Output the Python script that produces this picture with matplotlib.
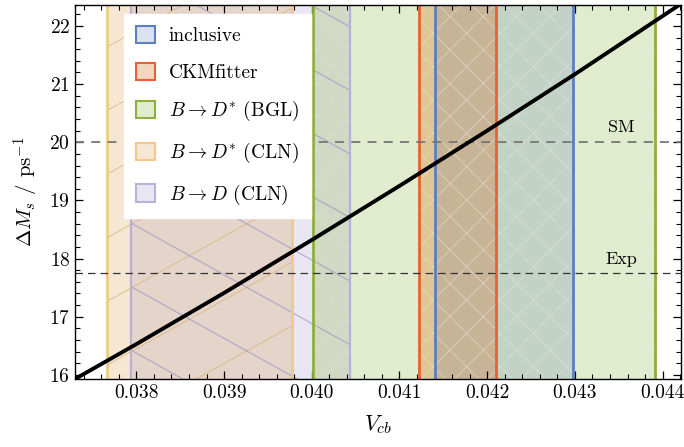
import numpy as np
import matplotlib
matplotlib.use("Agg")
import matplotlib.pyplot as plt
import matplotlib.patches as patches

plt.rcParams['font.family'] = 'serif'
plt.rcParams['font.serif'] = ['cmr10']
plt.rcParams['mathtext.fontset'] = 'cm'
plt.rcParams['axes.formatter.use_mathtext'] = True
plt.rcParams['hatch.linewidth'] = 0.8

# Delta M_s vs V_cb
vcb_points = [0.0373, 0.0380, 0.0390, 0.0400, 0.0410, 0.0420, 0.0430, 0.0440, 0.04421]
dms_points = [15.93, 16.53, 17.41, 18.32, 19.25, 20.20, 21.17, 22.17, 22.38]

# V_cb intervals
band_labels = ['inclusive', 'CKMfitter', r'$B\to D^{*}$ (BGL)', r'$B\to D^{*}$ (CLN)', r'$B\to D$ (CLN)']
band_lo = [0.04141, 0.04122, 0.04001, 0.03766, 0.03794]
band_hi = [0.04298, 0.04210, 0.04391, 0.03978, 0.04044]

dms_sm = 20.0
dms_exp = 17.757

edge_colors = ['#5b7fc0', '#ec5f33', '#8db03a', '#f2c78a', '#b8b0d6']
fill_colors = ['#4c72b0', '#d65a00', '#8ab03a', '#dca050', '#a89ed0']
fill_alpha = [0.2, 0.25, 0.25, 0.25, 0.25]
draw_order = [4, 3, 2, 0, 1]

fig = plt.figure(figsize=(6.84, 4.47), dpi=100)
ax = fig.add_axes([75 / 684, 1 - 379 / 447, 606 / 684, 374 / 447])

for i in draw_order:
    ax.axvspan(band_lo[i], band_hi[i], color=fill_colors[i], alpha=fill_alpha[i], lw=0, zorder=1)
    if i in (0, 1, 2):
        ax.axvspan(band_lo[i], band_hi[i], facecolor='none', edgecolor=(1, 1, 1, 0.13),
                   hatch='x', lw=0, zorder=1.1)

# sparse diagonal lines in the CLN bands
for i, sgn, col in [(3, 1, '#d9b77f'), (4, -1, '#9d95c4')]:
    span = ax.axvspan(band_lo[i], band_hi[i], facecolor='none', lw=0, zorder=1.2)
    for c in np.arange(-1.2, 2.2, 0.17):
        xs = np.array([0.0, 1.0])
        ys = c + sgn * 0.9 * xs
        ln, = ax.plot(xs, ys, transform=ax.transAxes, color=col, lw=0.8, alpha=0.75, zorder=1.2)
        ln.set_clip_path(span)

for i in draw_order:
    lw = 2.0 if i != 4 else 1.6
    ax.axvline(band_lo[i], color=edge_colors[i], lw=lw, zorder=2)
    ax.axvline(band_hi[i], color=edge_colors[i], lw=lw, zorder=2)

ax.axhline(dms_sm, color='#777777', lw=1.3, dashes=(5, 4), zorder=3)
ax.axhline(dms_exp, color='#333333', lw=0.9, dashes=(6, 4), zorder=3)
ax.text(0.04353, dms_sm + 0.13, 'SM', fontsize=13, ha='center', va='bottom', zorder=4)
ax.text(0.04353, dms_exp + 0.1, 'Exp', fontsize=13, ha='center', va='bottom', zorder=4)

ax.plot(vcb_points, dms_points, color='black', lw=2.8, zorder=5, solid_capstyle='butt')

ax.set_xlim(0.0373, 0.04421)
ax.set_ylim(15.93, 22.36)
ax.set_xticks([0.038, 0.039, 0.040, 0.041, 0.042, 0.043, 0.044])
ax.set_xticklabels(['0.038', '0.039', '0.040', '0.041', '0.042', '0.043', '0.044'])
ax.set_yticks([16, 17, 18, 19, 20, 21, 22])
ax.set_xticks(np.arange(0.0374, 0.0443, 0.0002), minor=True)
ax.set_yticks(np.arange(16.0, 22.4, 0.2), minor=True)
ax.tick_params(which='both', direction='in', top=True, right=True, labelsize=14, zorder=6)
ax.tick_params(which='major', length=6, width=0.9)
ax.tick_params(which='minor', length=3.5, width=0.8)
for s in ax.spines.values():
    s.set_linewidth(1.0)
    s.set_zorder(6)

ax.set_xlabel(r'$V_{cb}$', fontsize=16, labelpad=8)
ax.set_ylabel(r'$\Delta M_s$ / ps$^{-1}$', fontsize=15, labelpad=6)

handles = [patches.Patch(facecolor=matplotlib.colors.to_rgba(fill_colors[i], fill_alpha[i]),
                         edgecolor=edge_colors[i], lw=1.5) for i in range(5)]
leg = ax.legend(handles, band_labels, loc='upper left', bbox_to_anchor=(0.081, 0.976),
                borderaxespad=0, fontsize=14, frameon=True, fancybox=False, framealpha=1,
                edgecolor='white', handlelength=1.0, handleheight=1.0, handletextpad=0.7,
                labelspacing=0.9, borderpad=0.6)
leg.set_zorder(7)

fig.savefig('out.png', dpi=100)
